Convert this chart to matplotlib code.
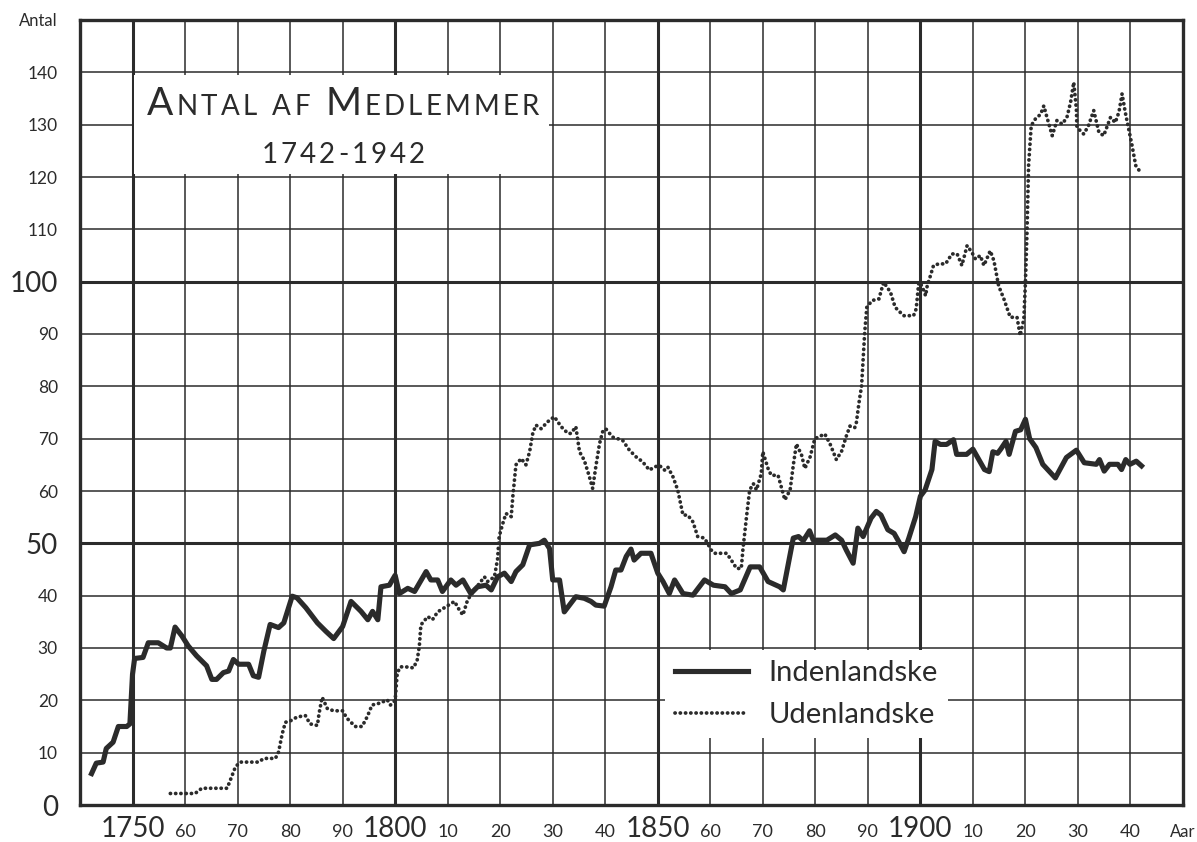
import numpy as np
import matplotlib.pyplot as plt
from matplotlib.patches import Rectangle
from matplotlib.transforms import IdentityTransform

plt.rcParams['font.family'] = ['Lato', 'DejaVu Sans']
ink = '#2b2b2b'

# Indenlandske (solid line)
ind_year = [1742.2, 1743.1, 1744.4, 1745.0, 1746.3, 1747.3, 1748.9, 1749.5, 1750.0, 1750.4,
            1752.0, 1753.0, 1754.9, 1756.5, 1757.2, 1758.1, 1759.4, 1760.6, 1762.2, 1764.1,
            1765.1, 1766.0, 1767.3, 1768.3, 1769.2, 1770.2, 1772.1, 1773.0, 1774.0, 1775.0,
            1776.2, 1777.8, 1778.8, 1780.4, 1781.3, 1783.0, 1785.2, 1786.8, 1788.3, 1790.0,
            1791.6, 1793.5, 1794.8, 1795.7, 1796.7, 1797.3, 1798.9, 1800.0, 1800.8, 1802.4,
            1803.7, 1805.9, 1806.8, 1808.1, 1809.0, 1810.6, 1811.6, 1812.9, 1814.4, 1815.7,
            1817.3, 1818.3, 1819.5, 1820.8, 1822.1, 1823.0, 1824.3, 1825.6, 1827.5, 1828.4,
            1829.4, 1830.0, 1831.3, 1832.2, 1834.4, 1836.0, 1837.3, 1838.2, 1839.8, 1841.1,
            1842.0, 1843.0, 1844.0, 1844.9, 1845.5, 1846.8, 1848.7, 1850.0, 1851.0, 1852.2,
            1853.2, 1854.8, 1856.7, 1858.9, 1860.6, 1862.8, 1864.0, 1865.7, 1867.6, 1869.4,
            1871.0, 1873.2, 1873.9, 1875.8, 1876.8, 1877.7, 1878.9, 1879.6, 1882.2, 1883.8,
            1885.0, 1885.9, 1887.2, 1888.1, 1889.1, 1890.6, 1891.6, 1892.5, 1893.8, 1895.0,
            1895.9, 1896.9, 1897.8, 1899.1, 1900.0, 1900.9, 1902.2, 1902.8, 1903.8, 1905.0,
            1906.3, 1906.9, 1908.8, 1910.0, 1911.3, 1912.2, 1913.1, 1913.8, 1914.7, 1915.3,
            1916.3, 1916.9, 1918.1, 1919.1, 1920.0, 1920.8, 1922.0, 1923.3, 1925.7, 1927.8,
            1929.7, 1931.2, 1933.5, 1934.1, 1935.0, 1936.0, 1937.6, 1938.3, 1939.1, 1939.9,
            1941.1, 1942.1]
ind_val = [6.0, 8.0, 8.2, 10.8, 12.0, 15.0, 15.0, 15.5, 25.0, 28.0,
           28.2, 31.0, 31.0, 30.0, 30.0, 34.0, 32.3, 30.4, 28.5, 26.6,
           24.0, 24.0, 25.3, 25.6, 27.8, 26.9, 26.9, 24.7, 24.4, 29.4,
           34.5, 33.9, 34.8, 39.9, 39.6, 37.7, 34.8, 33.2, 31.8, 34.1,
           38.9, 37.0, 35.4, 37.0, 35.4, 41.7, 42.0, 43.9, 40.4, 41.4,
           40.8, 44.6, 43.0, 43.0, 40.8, 43.0, 42.0, 43.0, 40.4, 41.7,
           42.0, 41.1, 43.6, 44.3, 42.7, 44.6, 45.9, 49.7, 50.0, 50.6,
           49.0, 43.0, 43.0, 36.9, 39.8, 39.5, 38.9, 38.2, 38.0, 41.7,
           44.9, 44.9, 47.5, 48.9, 46.8, 48.1, 48.1, 44.3, 42.7, 40.4,
           43.0, 40.4, 40.1, 43.0, 42.0, 41.7, 40.4, 41.1, 45.5, 45.5,
           42.7, 41.7, 41.1, 51.0, 51.3, 50.5, 52.4, 50.6, 50.6, 51.6,
           50.6, 48.7, 46.2, 52.9, 51.3, 54.8, 56.1, 55.4, 52.6, 51.9,
           50.3, 48.4, 51.0, 55.1, 59.0, 60.2, 64.1, 69.5, 68.9, 68.9,
           69.8, 67.0, 67.0, 68.0, 65.7, 64.1, 63.7, 67.5, 67.2, 68.0,
           69.5, 67.0, 71.4, 71.7, 73.7, 70.0, 68.3, 65.1, 62.5, 66.4,
           67.8, 65.4, 65.1, 66.0, 63.8, 65.1, 65.1, 64.1, 66.0, 65.1,
           65.7, 64.8]

# Udenlandske (dotted line)
ud_year = [1757.2, 1761.9, 1763.2, 1768.0, 1768.6, 1769.6, 1770.5, 1774.0, 1775.0, 1777.2,
           1777.8, 1778.5, 1779.1, 1780.1, 1781.3, 1782.9, 1783.8, 1785.2, 1785.5, 1786.1,
           1787.1, 1788.3, 1790.0, 1790.8, 1792.4, 1793.7, 1794.7, 1795.6, 1797.2, 1798.5,
           1799.1, 1800.0, 1800.4, 1801.0, 1802.0, 1803.5, 1804.2, 1804.6, 1804.9, 1806.2,
           1807.1, 1808.1, 1809.7, 1811.3, 1812.2, 1812.9, 1813.8, 1815.1, 1817.0, 1817.6,
           1818.9, 1819.5, 1819.8, 1820.5, 1821.1, 1822.1, 1822.4, 1823.0, 1824.0, 1824.9,
           1825.6, 1826.2, 1826.8, 1827.8, 1829.0, 1830.3, 1831.6, 1832.9, 1833.5, 1834.4,
           1835.1, 1836.0, 1836.9, 1837.6, 1838.2, 1838.9, 1839.5, 1840.1, 1841.4, 1843.3,
           1844.6, 1845.9, 1847.1, 1848.4, 1849.4, 1850.3, 1851.3, 1851.9, 1852.9, 1853.8,
           1854.8, 1855.7, 1856.7, 1857.6, 1858.9, 1860.2, 1860.8, 1863.1, 1864.0, 1865.0,
           1865.9, 1866.2, 1866.9, 1867.5, 1868.2, 1868.8, 1869.7, 1870.0, 1871.0, 1871.6,
           1872.9, 1873.5, 1874.2, 1875.2, 1875.8, 1876.4, 1877.4, 1878.0, 1879.0, 1879.9,
           1881.8, 1882.8, 1884.0, 1885.0, 1885.9, 1886.6, 1887.5, 1887.8, 1888.4, 1888.8,
           1889.1, 1889.4, 1889.8, 1890.8, 1892.1, 1893.0, 1894.3, 1895.2, 1896.8, 1898.7,
           1899.2, 1899.7, 1900.3, 1901.0, 1901.3, 1901.9, 1902.5, 1903.5, 1904.8, 1906.0,
           1907.0, 1907.9, 1908.9, 1909.8, 1910.5, 1911.4, 1912.1, 1913.3, 1914.0, 1914.9,
           1915.9, 1917.1, 1918.4, 1919.0, 1919.7, 1920.0, 1920.3, 1920.6, 1921.1, 1921.9,
           1922.9, 1923.5, 1924.1, 1925.1, 1926.0, 1927.0, 1927.9, 1928.6, 1929.2, 1929.7,
           1929.8, 1931.1, 1932.0, 1933.0, 1934.0, 1934.9, 1936.2, 1937.1, 1937.8, 1938.4,
           1939.0, 1939.7, 1940.3, 1941.0, 1941.9]
ud_val = [2.2, 2.2, 3.2, 3.2, 4.7, 7.3, 8.2, 8.2, 8.9, 8.9,
          10.1, 13.6, 15.8, 16.1, 16.8, 17.1, 15.5, 15.2, 17.4, 20.6,
          18.4, 18.0, 18.0, 16.6, 15.0, 15.0, 16.9, 19.1, 19.5, 20.1,
          19.1, 20.0, 25.2, 26.4, 26.4, 26.2, 27.7, 30.3, 34.4, 36.0,
          35.4, 36.9, 37.9, 38.9, 37.3, 36.3, 39.2, 41.1, 43.6, 42.7,
          43.6, 47.0, 51.3, 53.8, 55.7, 55.1, 58.9, 65.0, 66.2, 65.0,
          67.5, 71.0, 72.6, 71.9, 73.2, 74.2, 72.3, 71.0, 71.0, 72.3,
          67.5, 65.9, 63.0, 60.5, 64.6, 69.0, 71.3, 71.9, 70.3, 69.7,
          67.8, 66.5, 65.6, 64.0, 64.6, 64.9, 64.0, 64.6, 62.7, 60.2,
          55.4, 55.4, 54.1, 51.3, 51.0, 48.7, 48.1, 48.1, 46.8, 45.2,
          45.2, 48.7, 55.1, 60.2, 61.4, 60.2, 63.3, 67.5, 64.3, 63.0,
          63.0, 60.8, 58.3, 60.2, 64.9, 69.0, 66.8, 64.3, 66.5, 70.0,
          70.9, 69.0, 66.0, 67.6, 70.5, 72.4, 72.1, 73.0, 77.5, 80.0,
          85.2, 90.3, 95.1, 96.4, 96.7, 99.9, 98.0, 95.1, 93.5, 93.5,
          94.8, 99.9, 99.2, 97.3, 99.2, 101.1, 103.1, 103.4, 103.4, 105.3,
          105.3, 103.1, 106.9, 105.6, 104.3, 105.0, 103.1, 105.9, 104.0, 99.2,
          96.7, 93.2, 93.2, 89.7, 92.9, 99.9, 109.4, 122.2, 129.8, 131.1,
          132.0, 133.6, 131.4, 127.9, 130.8, 130.1, 131.4, 134.3, 138.1, 133.0,
          129.5, 128.2, 129.8, 132.7, 128.5, 127.9, 131.4, 130.4, 132.4, 135.9,
          132.4, 128.9, 126.0, 122.2, 120.9]

x_ticks = list(range(1750, 1941, 10)) + [1950]
x_labels = ['1750', '60', '70', '80', '90', '1800', '10', '20', '30', '40',
            '1850', '60', '70', '80', '90', '1900', '10', '20', '30', '40', 'Aar']
y_ticks = list(range(0, 141, 10)) + [150]
y_labels = [str(v) for v in range(0, 141, 10)] + ['Antal']

fig = plt.figure(figsize=(11.97, 8.42), dpi=100)
ax = fig.add_axes([80/1197, 37/842, 1103/1197, 785/842])
ax.set_xlim(1740, 1950)
ax.set_ylim(0, 150)

# grid, heavier every 50
for yr in range(1750, 1950, 10):
    ax.axvline(yr, color=ink, lw=2.2 if yr % 50 == 0 else 1.1, zorder=1)
for v in range(10, 150, 10):
    ax.axhline(v, color=ink, lw=2.2 if v % 50 == 0 else 1.1, zorder=1)

for s in ax.spines.values():
    s.set_linewidth(2.4)
    s.set_color(ink)

# white box behind the title
ax.add_patch(Rectangle((1750.3, 120.5), 79.0, 19.0, facecolor='white', edgecolor='none', zorder=2))

ax.plot(ind_year, ind_val, color=ink, lw=3.7, solid_joinstyle='round', zorder=3, label='Indenlandske')
ax.plot(ud_year, ud_val, color=ink, lw=2.7, linestyle=(0, (0.05, 1.35)), dash_capstyle='round',
        zorder=3, label='Udenlandske')

ax.set_xticks(x_ticks, x_labels)
ax.set_yticks(y_ticks, y_labels)
ax.tick_params(length=0, colors=ink)
ax.tick_params(axis='x', pad=23)
ax.tick_params(axis='y', pad=16)
for lab in ax.get_xticklabels():
    t = lab.get_text()
    lab.set_fontsize(20 if len(t) == 4 else (12 if t == 'Aar' else 13))
    lab.set_va('baseline')
for lab in ax.get_yticklabels():
    t = lab.get_text()
    lab.set_fontsize(20 if t in ('0', '50', '100') else (12 if t == 'Antal' else 12.5))

leg = ax.legend(loc='upper left', bbox_to_anchor=(0.530, 0.1975), borderaxespad=0,
                fontsize=21, handlelength=2.5, handletextpad=0.72, labelspacing=0.55,
                borderpad=0.35, fancybox=False, framealpha=1, facecolor='white', edgecolor='none')
for t in leg.get_texts():
    t.set_color(ink)


# letter-spaced text, pieces of different size share one baseline
def spaced_text(xc, yb, parts, tracking):
    r = fig.canvas.get_renderer()
    items = []
    for s, fs in parts:
        for ch in s:
            if ch == ' ':
                items.append((None, fs * 0.45))
            else:
                t = ax.text(0, 0, ch, fontsize=fs, color=ink, transform=IdentityTransform(),
                            ha='left', va='baseline', zorder=4)
                items.append((t, t.get_window_extent(r).width))
    total = sum(w for _, w in items) + tracking * (len(items) - 1)
    x0, y0 = ax.transData.transform((xc, yb))
    x = x0 - total / 2
    for t, w in items:
        if t is not None:
            t.set_position((x, y0))
        x += w + tracking


fig.canvas.draw()
spaced_text(1790.1, 131.9, [('A', 28), ('NTAL', 20), (' ', 20), ('AF', 20), (' ', 20),
                            ('M', 28), ('EDLEMMER', 20)], 3.2)
spaced_text(1790.1, 122.75, [('1742-1942', 20)], 3)

fig.savefig('out.png', dpi=100, facecolor='white')
